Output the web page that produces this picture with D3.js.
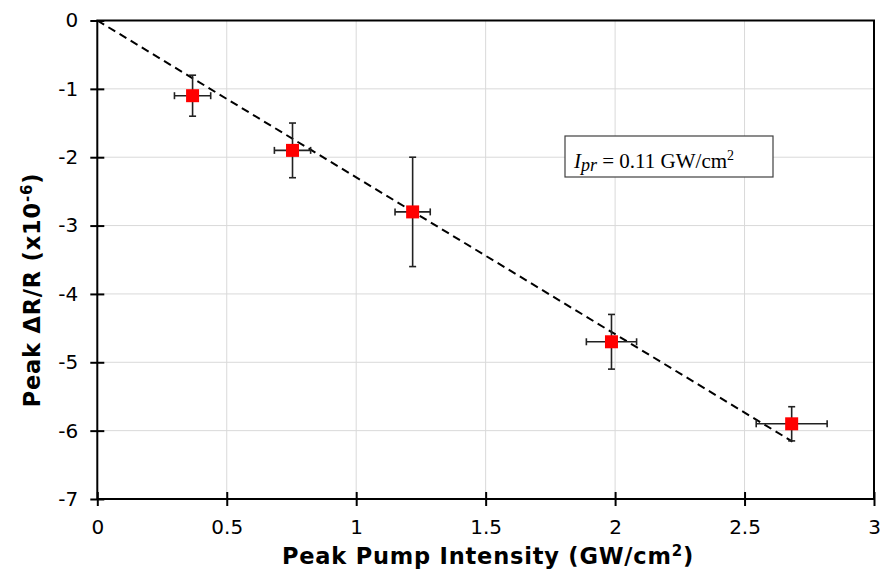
<!DOCTYPE html>
<html><head><meta charset="utf-8">
<script src="https://cdn.jsdelivr.net/npm/d3@7"></script>
<style>body{margin:0;background:#fff}svg{display:block}</style>
</head><body>
<svg id="c" width="883" height="572"></svg>
<script>
const intensity = [0.368, 0.754, 1.218, 1.986, 2.682];
const peakDR = [-1.1, -1.9, -2.8, -4.7, -5.9];
const xErr = [0.07, 0.07, 0.068, 0.097, 0.137];
const yErr = [0.3, 0.4, 0.8, 0.4, 0.25];
const fitX = [0, 2.685];
const fitY = [0, -6.16];
const xTicks = [0, 0.5, 1, 1.5, 2, 2.5, 3];
const yTicks = [0, -1, -2, -3, -4, -5, -6, -7];

const svg = d3.select("#c");
const x = d3.scaleLinear().domain([0, 3]).range([97.3, 874]);
const y = d3.scaleLinear().domain([0, -7]).range([20.5, 499]);

// grid
svg.append("g").selectAll("line").data(xTicks.slice(1, -1)).join("line")
  .attr("x1", d => x(d)).attr("x2", d => x(d)).attr("y1", y(0)).attr("y2", y(-7))
  .attr("stroke", "#d9d9d9").attr("stroke-width", 1);
svg.append("g").selectAll("line").data(yTicks.slice(1, -1)).join("line")
  .attr("y1", d => y(d)).attr("y2", d => y(d)).attr("x1", x(0)).attr("x2", x(3))
  .attr("stroke", "#d9d9d9").attr("stroke-width", 1);

// frame
svg.append("rect").attr("x", x(0)).attr("y", y(0)).attr("width", x(3) - x(0)).attr("height", y(-7) - y(0))
  .attr("fill", "none").attr("stroke", "#000").attr("stroke-width", 2);

// axes
const fmt = d => String(d);
const xAxis = svg.append("g").attr("transform", `translate(0,${y(-7)})`)
  .call(d3.axisBottom(x).tickValues(xTicks).tickFormat(fmt).tickSizeInner(7).tickSizeOuter(0));
xAxis.select(".domain").remove();
xAxis.selectAll(".tick line").attr("y1", -7).attr("y2", 7).attr("stroke-width", 2);
xAxis.selectAll(".tick text").attr("y", 21).attr("font-family", "DejaVu Sans, Verdana").attr("font-size", 20).attr("fill", "#000");

const yAxis = svg.append("g").attr("transform", `translate(${x(0)},0)`)
  .call(d3.axisLeft(y).tickValues(yTicks).tickFormat(fmt).tickSizeInner(7).tickSizeOuter(0));
yAxis.select(".domain").remove();
yAxis.selectAll(".tick line").attr("x1", -7).attr("x2", 7).attr("stroke-width", 2);
yAxis.selectAll(".tick text").attr("x", -19).attr("font-family", "DejaVu Sans, Verdana").attr("font-size", 20).attr("fill", "#000");

// fit line
svg.append("line").attr("x1", x(fitX[0])).attr("y1", y(fitY[0])).attr("x2", x(fitX[1])).attr("y2", y(fitY[1]))
  .attr("stroke", "#000").attr("stroke-width", 2).attr("stroke-dasharray", "8,5");

const data = intensity.map((v, i) => ({x: v, y: peakDR[i], ex: xErr[i], ey: yErr[i]}));
const eb = svg.append("g").attr("stroke", "#222").attr("stroke-width", 1.6);
data.forEach(d => {
  eb.append("line").attr("x1", x(d.x - d.ex)).attr("x2", x(d.x + d.ex)).attr("y1", y(d.y)).attr("y2", y(d.y));
  eb.append("line").attr("x1", x(d.x)).attr("x2", x(d.x)).attr("y1", y(d.y + d.ey)).attr("y2", y(d.y - d.ey));
  [d.x - d.ex, d.x + d.ex].forEach(v => eb.append("line").attr("x1", x(v)).attr("x2", x(v)).attr("y1", y(d.y) - 3.5).attr("y2", y(d.y) + 3.5));
  [d.y - d.ey, d.y + d.ey].forEach(v => eb.append("line").attr("y1", y(v)).attr("y2", y(v)).attr("x1", x(d.x) - 3.5).attr("x2", x(d.x) + 3.5));
});
svg.append("g").selectAll("rect").data(data).join("rect")
  .attr("x", d => x(d.x) - 6.5).attr("y", d => y(d.y) - 6.5).attr("width", 13).attr("height", 13)
  .attr("fill", "#ff0000");

// annotation
svg.append("rect").attr("x", 565).attr("y", 136).attr("width", 208).attr("height", 41)
  .attr("fill", "#fff").attr("stroke", "#404040").attr("stroke-width", 1.2);
const ann = svg.append("text").attr("x", 574).attr("y", 168)
  .attr("font-family", "Liberation Serif, Times New Roman, serif").attr("font-size", 21).attr("fill", "#000");
ann.append("tspan").attr("font-style", "italic").text("I");
ann.append("tspan").attr("font-style", "italic").attr("dy", 3).attr("font-size", 18).text("pr");
ann.append("tspan").attr("dy", -3).text(" = 0.11 GW/cm");
ann.append("tspan").attr("dy", -8).attr("font-size", 14).text("2");

// axis titles
const xt = svg.append("text").attr("x", 488).attr("y", 564).attr("text-anchor", "middle")
  .attr("font-family", "DejaVu Sans, Verdana").attr("font-weight", "bold").attr("font-size", 22.5)
  .attr("letter-spacing", 0.8).attr("fill", "#000");
xt.append("tspan").text("Peak Pump Intensity (GW/cm");
xt.append("tspan").attr("dy", -8).attr("font-size", 15).text("2");
xt.append("tspan").attr("dy", 8).text(")");

const yt = svg.append("text").attr("transform", "translate(40,290) rotate(-90)").attr("text-anchor", "middle")
  .attr("font-family", "DejaVu Sans, Verdana").attr("font-weight", "bold").attr("font-size", 22.5)
  .attr("letter-spacing", 0.8).attr("fill", "#000");
yt.append("tspan").text("Peak ΔR/R (x10");
yt.append("tspan").attr("dy", -8).attr("font-size", 15).text("-6");
yt.append("tspan").attr("dy", 8).text(")");
</script>
</body></html>
